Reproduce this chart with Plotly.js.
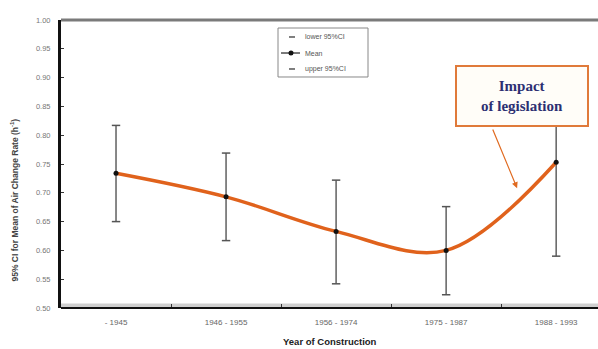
<!DOCTYPE html>
<html><head><meta charset="utf-8">
<script src="https://cdn.plot.ly/plotly-3.0.1.min.js"></script>
<style>html,body{margin:0;padding:0;background:#fff}#chart{width:598px;height:349px}</style>
</head><body><div id="chart"></div>
<script>
const categories = ['- 1945', '1946 - 1955', '1956 - 1974', '1975 - 1987', '1988 - 1993'];
const meanVals = [0.734, 0.693, 0.633, 0.600, 0.753];
const lowerVals = [0.650, 0.617, 0.542, 0.523, 0.590];
const upperVals = [0.817, 0.769, 0.722, 0.676, 0.912];
const yTicks = [0.50, 0.55, 0.60, 0.65, 0.70, 0.75, 0.80, 0.85, 0.90, 0.95, 1.00];
const legendLabels = ['lower 95%CI', 'Mean', 'upper 95%CI'];

const plus = upperVals.map((u, i) => u - meanVals[i]);
const minus = lowerVals.map((l, i) => meanVals[i] - l);

const traces = [
  {x: categories, y: meanVals, type: 'scatter', mode: 'markers', showlegend: false, hoverinfo: 'skip',
   marker: {size: 1, opacity: 0},
   error_y: {type: 'data', symmetric: false, array: plus, arrayminus: minus, color: '#6a6a6a', thickness: 1.6, width: 0}},
  {x: categories, y: meanVals, type: 'scatter', mode: 'lines', showlegend: false,
   line: {color: '#e0621c', width: 3.5, shape: 'spline', smoothing: 1}},
  {x: categories, y: lowerVals, type: 'scatter', mode: 'markers', name: legendLabels[0], showlegend: false,
   marker: {symbol: 'line-ew', size: 6, line: {color: '#555', width: 1.5}}},
  {x: categories, y: meanVals, type: 'scatter', mode: 'markers', name: legendLabels[1], showlegend: false,
   marker: {color: '#111', size: 5}},
  {x: categories, y: upperVals, type: 'scatter', mode: 'markers', name: legendLabels[2], showlegend: false,
   marker: {symbol: 'line-ew', size: 6, line: {color: '#555', width: 1.5}}}
];

// compact legend box (paper coordinates)
const legRows = [0.941, 0.8854, 0.8299];
const legShapes = [
  {type: 'rect', xref: 'paper', yref: 'paper', x0: 0.4041, x1: 0.5717, y0: 0.8021, y1: 0.9722,
   fillcolor: '#fff', line: {color: '#888', width: 1}},
  {type: 'line', xref: 'paper', yref: 'paper', x0: 0.4246, x1: 0.4358, y0: legRows[0], y1: legRows[0],
   line: {color: '#555', width: 1.5}},
  {type: 'line', xref: 'paper', yref: 'paper', x0: 0.4097, x1: 0.4451, y0: legRows[1], y1: legRows[1],
   line: {color: '#222', width: 1.2}},
  {type: 'circle', xref: 'paper', yref: 'paper', x0: 0.4237, x1: 0.4330, y0: legRows[1] - 0.0087, y1: legRows[1] + 0.0087,
   fillcolor: '#111', line: {color: '#111', width: 0}},
  {type: 'line', xref: 'paper', yref: 'paper', x0: 0.4246, x1: 0.4358, y0: legRows[2], y1: legRows[2],
   line: {color: '#555', width: 1.5}}
];
const legAnn = legendLabels.map((t, i) => ({
  xref: 'paper', yref: 'paper', x: 0.4507, y: legRows[i], xanchor: 'left', yanchor: 'middle',
  text: t, showarrow: false, font: {size: 7, color: '#555'}
}));

const layout = {
  width: 598, height: 349,
  margin: {l: 61, r: 0, t: 20, b: 41},
  paper_bgcolor: '#fff', plot_bgcolor: '#fff',
  font: {family: 'Arial, Liberation Sans, sans-serif', color: '#666'},
  showlegend: false,
  xaxis: {
    type: 'category', range: [-0.5, 4.38], tickson: 'boundaries',
    ticks: 'inside', ticklen: 4, tickcolor: '#333', tickwidth: 1,
    showgrid: false, zeroline: false, showline: false,
    tickfont: {size: 8, color: '#666'}, ticklabelstandoff: 8
  },
  yaxis: {
    range: [0.50, 1.00], tickvals: yTicks, ticktext: yTicks.map(v => v.toFixed(2)),
    ticks: 'inside', ticklen: 3, tickcolor: '#333',
    showgrid: false, zeroline: false, showline: true, linecolor: '#111', linewidth: 3,
    tickfont: {size: 7.5, color: '#777'}, ticklabelstandoff: 6
  },
  shapes: [
    {type: 'rect', xref: 'paper', yref: 'y', x0: 0, x1: 1, y0: 0.50, y1: 0.508,
     fillcolor: '#cfcfcf', line: {width: 0}, layer: 'below'},
    {type: 'line', xref: 'paper', yref: 'paper', x0: 0, x1: 1, y0: 0, y1: 0,
     line: {color: '#111', width: 2}},
    {type: 'line', xref: 'paper', yref: 'paper', x0: 0, x1: 1, y0: 1, y1: 1,
     line: {color: '#7a7a7a', width: 3}}
  ].concat(legShapes),
  annotations: [
    {xref: 'paper', yref: 'y', x: -0.086, y: 0.688, xanchor: 'center', yanchor: 'middle',
     text: '<b>95% CI for Mean of Air Change Rate (h<sup>-1</sup>)</b>', textangle: -90,
     showarrow: false, font: {size: 8.5, color: '#444'}},
    {xref: 'paper', yref: 'paper', x: 0.5, y: -0.115, xanchor: 'center', yanchor: 'middle',
     text: '<b>Year of Construction</b>', showarrow: false, font: {size: 9.5, color: '#222'}},
    {xref: 'x', yref: 'y', x: 3.645, y: 0.708, ax: 3.418, ay: 0.8125, axref: 'x', ayref: 'y',
     text: '', showarrow: true, arrowhead: 2, arrowsize: 1, arrowwidth: 1.2, arrowcolor: '#e06a20'},
    {xref: 'x', yref: 'y', x: 3.69, y: 0.868, xanchor: 'center', yanchor: 'middle',
     text: '<b>Impact<br>of legislation</b>', showarrow: false, align: 'center',
     font: {family: 'Liberation Serif, DejaVu Serif, serif', size: 15, color: '#2c2f72'},
     bgcolor: '#fffdf8', bordercolor: '#e07a3a', borderwidth: 2, borderpad: 6, width: 118, height: 46}
  ].concat(legAnn)
};

Plotly.newPlot('chart', traces, layout, {displayModeBar: false, staticPlot: true});
</script>
</body></html>
